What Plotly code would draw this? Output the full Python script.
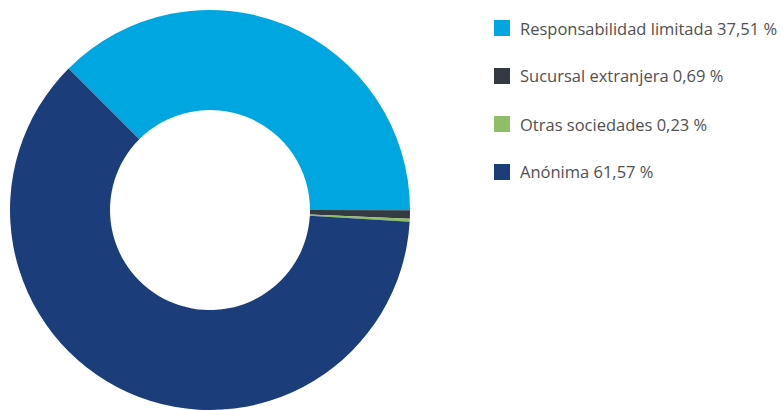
import plotly.graph_objects as go

# Company type shares (percent)
labels = ["Responsabilidad limitada", "Sucursal extranjera", "Otras sociedades", "Anónima"]
values = [37.51, 0.69, 0.23, 61.57]
value_text = ["37,51 %", "0,69 %", "0,23 %", "61,57 %"]
colors = ["#00A6DF", "#343A42", "#8FBE66", "#1B3E7B"]

W, H = 783, 410

fig = go.Figure()
fig.add_trace(go.Pie(
    labels=labels,
    values=values,
    hole=0.5,
    sort=False,
    direction="clockwise",
    rotation=-45,
    marker=dict(colors=colors, line=dict(width=0)),
    textinfo="none",
    hoverinfo="label+percent",
    showlegend=False,
    domain=dict(x=[10 / W, 410 / W], y=[0, 400 / H]),
))

# Legend: square swatch plus label for each slice
row0, step = 28, 48
for i, (lab, txt, col) in enumerate(zip(labels, value_text, colors)):
    yc = row0 + i * step
    fig.add_shape(type="rect", xref="paper", yref="paper",
                  x0=494 / W, x1=510 / W, y0=1 - (yc + 8) / H, y1=1 - (yc - 8) / H,
                  fillcolor=col, line=dict(width=0))
    fig.add_annotation(xref="paper", yref="paper", x=518 / W, y=1 - yc / H,
                       xanchor="left", yanchor="middle", showarrow=False,
                       text=f"{lab} {txt}",
                       font=dict(family="Open Sans", size=16.5, color="#505050"))

fig.update_layout(
    width=W, height=H,
    margin=dict(l=0, r=0, t=0, b=0),
    paper_bgcolor="white",
    plot_bgcolor="white",
)

fig.write_html("out.html")
